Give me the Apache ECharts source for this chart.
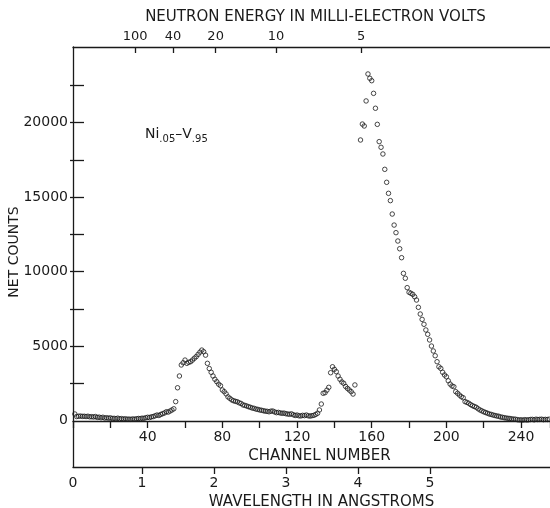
<!DOCTYPE html>
<html>
<head>
<meta charset="utf-8">
<script src="https://cdn.jsdelivr.net/npm/echarts@6/dist/echarts.min.js"></script>
<style>
    html, body { margin: 0; padding: 0; background: #fff; }
    #chart { width: 550px; height: 508px; }
</style>
</head>
<body>
<div id="chart"></div>
<script>
// net counts per channel, starting at channel 1 (null = no point plotted)
const netCounts = [
    450, 280, 300, 310, 290, 300, 280, 300, 260, 270,
    250, 280, 220, 240, 200, 230, 180, 200, 170, 190,
    150, 160, 140, 170, 130, 140, 110, 130, 100, 110,
    90, 120, 100, 130, 150, 140, 170, 160, 200, 230,
    210, 260, 280, 330, 380, 350, 420, 470, 520, 600,
    580, 650, 720, 800, 1280, 2210, 3000, 3740, 3890, 4070,
    3850, 3920, 3960, 4070, 4190, 4300, 4450, 4600, 4740, 4630,
    4400, 3850, 3500, 3250, 3000, 2780, 2620, 2450, 2350, 2060,
    1950, 1800, 1600, 1500, 1400, 1340, 1300, 1270, 1200, 1160,
    1060, 1030, 990, 940, 900, 850, 830, 780, 760, 720,
    700, 670, 640, 630, 600, 640, 650, 590, 540, 560,
    520, 500, 510, 470, 450, 430, 460, 400, 350, 380,
    330, 320, 360, 340, 380, 330, 310, 340, 360, 420,
    500, 720, 1120, 1840, 1880, 2050, 2240, 3220, 3620, 3450,
    3290, 3000, 2780, 2600, 2510, 2300, 2170, 2060, 1950, 1790,
    2400, null, null, 18840, 19910, 19780, 21460, 23270, 22980, 22820,
    21970, 20970, 19890, 18730, 18350, 17900, 16870, 16000, 15260, 14770,
    13870, 13130, 12620, 12060, 11540, 10940, 9890, 9560, 8930, 8620,
    8550, 8480, 8320, 8100, 7610, 7160, 6800, 6470, 6090, 5800,
    5420, 5010, 4680, 4360, 3960, 3620, 3510, 3250, 3070, 2950,
    2680, 2460, 2330, 2280, 1950, 1840, 1720, 1610, 1540, 1280,
    1230, 1170, 1080, 1010, 950, 900, 800, 720, 660, 600,
    550, 500, 450, 420, 380, 350, 315, 300, 250, 230,
    200, 180, 160, 150, 120, 110, 100, 70, 50, 60,
    40, 70, 50, 60, 80, 90, 60, 100, 80, 90,
    100, 70, 90, 80, 100
];

// tick labels
const countLabels = [0, 5000, 10000, 15000, 20000];
const countTicks = [2500, 5000, 7500, 10000, 12500, 15000, 17500, 20000, 22500];
const wavelengthLabels = [0, 1, 2, 3, 4, 5];
const energyLabels = [100, 40, 20, 10, 5];

// E(meV) = 81.81 / lambda^2
const ENERGY_K = 81.81;
const LAMBDA_MIN = 0.04;
const LAMBDA_MAX = 6.67;

const FONT = 'DejaVu Sans';
const INK = '#1a1a1a';

const chart = echarts.init(document.getElementById('chart'));

const points = [];
netCounts.forEach(function(c, i) {
    if (c !== null) points.push([i + 1, c]);
});

const option = {
    animation: false,
    grid: {
        left: 73,
        right: 0,
        top: 47,
        bottom: 41,
        outerBoundsMode: 'none'
    },
    xAxis: [
        {
            // channel number, drawn along the zero line (46px above the frame bottom)
            type: 'value',
            position: 'bottom',
            offset: -46,
            min: 0,
            max: 255.5,
            interval: 20,
            name: 'CHANNEL NUMBER',
            nameLocation: 'middle',
            nameGap: 27,
            nameTextStyle: { fontFamily: FONT, fontSize: 15, color: INK, padding: [0, 0, 0, 16] },
            axisLine: { onZero: false, lineStyle: { color: INK, width: 1.3 } },
            axisTick: { inside: false, length: 7, lineStyle: { color: INK, width: 1.3 } },
            axisLabel: {
                margin: 9,
                fontFamily: FONT,
                fontSize: 14,
                color: INK,
                formatter: function(v) {
                    return v > 0 && v % 40 === 0 ? String(v) : '';
                }
            },
            splitLine: { show: false }
        },
        {
            // wavelength in angstroms, bottom frame line
            type: 'value',
            position: 'bottom',
            min: LAMBDA_MIN,
            max: LAMBDA_MAX,
            name: 'WAVELENGTH IN ANGSTROMS',
            nameLocation: 'middle',
            nameGap: 25,
            nameTextStyle: { fontFamily: FONT, fontSize: 15, color: INK, padding: [0, 0, 0, 20] },
            axisLine: { onZero: false, lineStyle: { color: INK, width: 1.3 } },
            axisTick: {
                inside: false,
                length: 7,
                customValues: wavelengthLabels.filter(v => v > 0),
                lineStyle: { color: INK, width: 1.3 }
            },
            axisLabel: {
                margin: 9,
                fontFamily: FONT,
                fontSize: 14,
                color: INK,
                customValues: wavelengthLabels.map(v => Math.max(v, LAMBDA_MIN)),
                formatter: function(v) { return String(Math.round(v)); }
            },
            splitLine: { show: false }
        },
        {
            // neutron energy, top frame line
            type: 'value',
            position: 'top',
            min: LAMBDA_MIN,
            max: LAMBDA_MAX,
            name: 'NEUTRON ENERGY IN MILLI-ELECTRON VOLTS',
            nameLocation: 'middle',
            nameGap: 19,
            nameTextStyle: { fontFamily: FONT, fontSize: 15, color: INK, padding: [0, 0, 0, 8] },
            axisLine: { onZero: false, lineStyle: { color: INK, width: 1.3 } },
            axisTick: {
                inside: true,
                length: 6,
                customValues: energyLabels.map(e => Math.sqrt(ENERGY_K / e)),
                lineStyle: { color: INK, width: 1.3 }
            },
            axisLabel: {
                margin: 4,
                fontFamily: FONT,
                fontSize: 13,
                color: INK,
                customValues: energyLabels.map(e => Math.sqrt(ENERGY_K / e)),
                formatter: function(v) { return String(Math.round(ENERGY_K / (v * v))); }
            },
            splitLine: { show: false }
        }
    ],
    yAxis: [
        {
            type: 'value',
            position: 'left',
            min: -3107,
            max: 25081,
            name: 'NET COUNTS',
            nameLocation: 'middle',
            nameRotate: 90,
            nameGap: 52,
            nameMoveOverlap: false,
            nameTextStyle: { fontFamily: FONT, fontSize: 14, color: INK, padding: [0, 0, 0, 10] },
            axisLine: { onZero: false, lineStyle: { color: INK, width: 1.3 } },
            axisTick: {
                inside: true,
                length: 11,
                customValues: countTicks,
                lineStyle: { color: INK, width: 1.3 }
            },
            axisLabel: {
                margin: 5,
                fontFamily: FONT,
                fontSize: 14,
                color: INK,
                customValues: countLabels,
                formatter: function(v) { return String(v); }
            },
            splitLine: { show: false }
        },
        {
            // right frame: only the short inner ticks show at the picture edge
            type: 'value',
            position: 'right',
            min: -3107,
            max: 25081,
            axisLine: { show: false },
            axisTick: {
                inside: true,
                length: 3,
                customValues: countTicks,
                lineStyle: { color: INK, width: 1.3 }
            },
            axisLabel: { show: false },
            splitLine: { show: false }
        }
    ],
    graphic: [
        {
            type: 'text',
            left: 145,
            top: 124,
            style: {
                text: '{m|Ni}{s|.05}{m|–V}{s|.95}',
                fill: INK,
                rich: {
                    m: { fontFamily: FONT, fontSize: 14, lineHeight: 16, fill: INK },
                    s: { fontFamily: FONT, fontSize: 10, lineHeight: 10, padding: [10, 0, 0, 0], fill: INK }
                }
            }
        }
    ],
    series: [
        {
            name: 'Ni.05-V.95',
            type: 'scatter',
            xAxisIndex: 0,
            yAxisIndex: 0,
            symbol: 'circle',
            symbolSize: 4.5,
            itemStyle: {
                color: 'rgba(0,0,0,0)',
                borderColor: '#1a1a1a',
                borderWidth: 1
            },
            data: points
        }
    ]
};

chart.setOption(option);

window.addEventListener('resize', function() {
    chart.resize();
});
</script>
</body>
</html>
